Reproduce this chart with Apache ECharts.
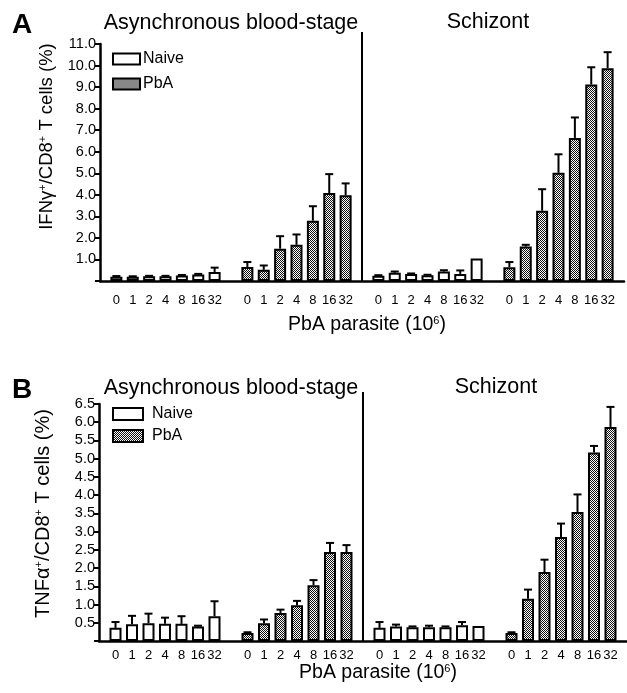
<!DOCTYPE html>
<html>
<head>
<meta charset="utf-8">
<script src="https://cdn.jsdelivr.net/npm/echarts@6/dist/echarts.min.js"></script>
<style>
html, body { margin: 0; padding: 0; background: #fff; }
#chart { width: 627px; height: 693px; }
</style>
</head>
<body>
<div id="chart"></div>
<script>
var doses = ['0', '1', '2', '4', '8', '16', '32'];

// A: IFN-gamma
var ifnNaiveAsync    = [0.20, 0.20, 0.22, 0.22, 0.25, 0.30, 0.42];
var ifnNaiveAsyncErr = [0.03, 0.02, 0.02, 0.02, 0.03, 0.03, 0.20];
var ifnPbaAsync      = [0.65, 0.52, 1.50, 1.68, 2.80, 4.08, 3.98];
var ifnPbaAsyncErr   = [0.23, 0.20, 0.58, 0.48, 0.67, 0.88, 0.55];
var ifnNaiveSchiz    = [0.24, 0.38, 0.33, 0.27, 0.44, 0.33, 1.05];
var ifnNaiveSchizErr = [0.03, 0.06, 0.02, 0.02, 0.06, 0.16, 0];
var ifnPbaSchiz      = [0.64, 1.60, 3.26, 5.02, 6.64, 9.12, 9.88];
var ifnPbaSchizErr   = [0.24, 0.08, 1.00, 0.86, 0.95, 0.80, 0.74];

// B: TNF-alpha
var tnfNaiveAsync    = [0.36, 0.46, 0.49, 0.47, 0.47, 0.40, 0.68];
var tnfNaiveAsyncErr = [0.16, 0.23, 0.26, 0.17, 0.21, 0.02, 0.41];
var tnfPbaAsync      = [0.22, 0.49, 0.77, 0.98, 1.53, 2.44, 2.44];
var tnfPbaAsyncErr   = [0.02, 0.10, 0.09, 0.12, 0.14, 0.25, 0.19];
var tnfNaiveSchiz    = [0.36, 0.40, 0.38, 0.38, 0.38, 0.43, 0.41];
var tnfNaiveSchizErr = [0.16, 0.05, 0.02, 0.04, 0.02, 0.09, 0];
var tnfPbaSchiz      = [0.22, 1.16, 1.89, 2.85, 3.54, 5.17, 5.87];
var tnfPbaSchizErr   = [0.02, 0.25, 0.34, 0.37, 0.48, 0.18, 0.55];

// 4 groups of 7 with a blank slot before, between and after
var starts = [1, 9, 17, 25];
var categories = [''];
for (var g = 0; g < 4; g++) {
    categories = categories.concat(doses);
    categories.push('');
}

function slots(groups) {
    var out = categories.map(function () { return null; });
    groups.forEach(function (vals, gi) {
        if (!vals) return;
        vals.forEach(function (v, i) { out[starts[gi] + i] = v; });
    });
    return out;
}
function errs(pairs) {
    var out = [];
    pairs.forEach(function (p, gi) {
        p[0].forEach(function (v, i) {
            if (p[1][i] > 0) out.push([starts[gi] + i, v, p[1][i]]);
        });
    });
    return out;
}

// checker texture for PbA bars
var tex = document.createElement('canvas');
tex.width = 2; tex.height = 2;
var tc = tex.getContext('2d');
tc.fillStyle = '#fff'; tc.fillRect(0, 0, 2, 2);
tc.fillStyle = '#111'; tc.fillRect(0, 0, 1, 1); tc.fillRect(1, 1, 1, 1);
var pbaFill = { image: tex, repeat: 'repeat' };

var FONT = "'Liberation Sans', Arial, Helvetica, sans-serif";
var NARROW = "'Liberation Sans Narrow', 'Liberation Sans', Arial, sans-serif";

function errRender(params, api) {
    var x = api.value(0), v = api.value(1), e = api.value(2);
    var top = api.coord([x, v + e]);
    var bot = api.coord([x, v]);
    var st = { stroke: '#000', lineWidth: 2 };
    return {
        type: 'group',
        children: [
            { type: 'line', shape: { x1: top[0], y1: top[1], x2: bot[0], y2: bot[1] }, style: st },
            { type: 'line', shape: { x1: top[0] - 4, y1: top[1], x2: top[0] + 4, y2: top[1] }, style: st }
        ]
    };
}

var rich = { sup: { fontSize: 11, fontFamily: FONT, color: '#000', verticalAlign: 'top' } };

function xAxisFor(i, margin, gap, padLeft) {
    return {
        type: 'category', gridIndex: i, data: categories, boundaryGap: false,
        axisLine: { lineStyle: { color: '#000', width: 2.5 } },
        axisTick: { show: false },
        axisLabel: { interval: 0, color: '#000', fontSize: 13, fontFamily: NARROW, margin: margin },
        name: 'PbA parasite (10{sup|6})', nameLocation: 'middle', nameGap: gap,
        nameTextStyle: { color: '#000', fontSize: 19.5, fontFamily: FONT, padding: [0, 0, 0, padLeft], rich: rich }
    };
}
function yAxisFor(i, max, step, name, fs, pad, gap) {
    return {
        type: 'value', gridIndex: i, min: 0, max: max, interval: step,
        splitLine: { show: false },
        axisLine: { show: true, lineStyle: { color: '#000', width: 2.5 } },
        axisTick: { show: true, length: 5, lineStyle: { color: '#000', width: 2 } },
        axisLabel: {
            color: '#000', fontSize: 14.5, fontFamily: FONT, margin: 4,
            formatter: function (v) { return v === 0 ? '' : v.toFixed(1); }
        },
        name: name, nameLocation: 'middle', nameGap: gap, nameRotate: 90,
        nameTextStyle: { color: '#000', fontSize: fs, fontFamily: FONT, padding: [0, 0, 0, pad], rich: rich }
    };
}
function barSeries(name, i, data, color) {
    return {
        name: name, type: 'bar', xAxisIndex: i, yAxisIndex: i,
        data: data, barWidth: 12, barGap: '-100%',
        itemStyle: { color: color, borderColor: '#000', borderWidth: 2 },
        emphasis: { disabled: true }
    };
}
function errSeries(i, data) {
    return {
        type: 'custom', xAxisIndex: i, yAxisIndex: i, data: data,
        renderItem: errRender, z: 3, silent: true
    };
}
function legendFor(top, w, h, gap, textPad) {
    return {
        orient: 'vertical', left: 112, top: top, itemWidth: w, itemHeight: h, itemGap: gap,
        icon: 'rect', selectedMode: false, padding: 0,
        textStyle: { color: '#000', fontSize: 16, fontFamily: FONT, padding: [0, 0, 0, textPad] },
        data: ['Naive', 'PbA']
    };
}

var chart = echarts.init(document.getElementById('chart'));
var option = {
    backgroundColor: '#fff',
    animation: false,
    grid: [
        { left: 100, right: 3, top: 44, bottom: 412, outerBoundsMode: 'none' },
        { left: 99, right: 0, top: 404, bottom: 52, outerBoundsMode: 'none' }
    ],
    legend: [legendFor(51, 27, 11, 9, -2), legendFor(406, 30, 12, 6, 4)],
    xAxis: [xAxisFor(0, 13, 34, 10), xAxisFor(1, 8, 22, 30)],
    yAxis: [
        yAxisFor(0, 11, 1, 'IFNγ{sup|+}/CD8{sup|+} T cells (%)', 18.5, 52, 44),
        yAxisFor(1, 6.5, 0.5, 'TNFα{sup|+}/CD8{sup|+} T cells (%)', 20, 18, 46)
    ],
    series: [
        barSeries('Naive', 0, slots([ifnNaiveAsync, null, ifnNaiveSchiz, null]), '#fff'),
        barSeries('PbA', 0, slots([null, ifnPbaAsync, null, ifnPbaSchiz]), pbaFill),
        errSeries(0, errs([[ifnNaiveAsync, ifnNaiveAsyncErr], [ifnPbaAsync, ifnPbaAsyncErr],
                           [ifnNaiveSchiz, ifnNaiveSchizErr], [ifnPbaSchiz, ifnPbaSchizErr]])),
        barSeries('Naive', 1, slots([tnfNaiveAsync, null, tnfNaiveSchiz, null]), '#fff'),
        barSeries('PbA', 1, slots([null, tnfPbaAsync, null, tnfPbaSchiz]), pbaFill),
        errSeries(1, errs([[tnfNaiveAsync, tnfNaiveAsyncErr], [tnfPbaAsync, tnfPbaAsyncErr],
                           [tnfNaiveSchiz, tnfNaiveSchizErr], [tnfPbaSchiz, tnfPbaSchizErr]]))
    ]
};
chart.setOption(option);

// panel letters, stage titles and the divider between stages
var graphics = [];
[
    { letter: 'A', g: 0, ly: 25, ty: 23, ax: 231, sx: 488 },
    { letter: 'B', g: 1, ly: 390, ty: 388, ax: 231, sx: 496 }
].forEach(function (p) {
    var ymax = option.yAxis[p.g].max;
    var mid = chart.convertToPixel({ gridIndex: p.g }, [16, 0]);
    var topPt = chart.convertToPixel({ gridIndex: p.g }, [16, ymax]);
    graphics.push({
        type: 'text', x: 22, y: p.ly,
        style: { text: p.letter, font: "bold 28px " + FONT, fill: '#000', align: 'center', verticalAlign: 'middle' }
    });
    graphics.push({
        type: 'text', x: p.ax, y: p.ty,
        style: { text: 'Asynchronous blood-stage', font: "21.5px " + FONT, fill: '#000', align: 'center', verticalAlign: 'middle' }
    });
    graphics.push({
        type: 'text', x: p.sx, y: p.ty - 1,
        style: { text: 'Schizont', font: "21.5px " + FONT, fill: '#000', align: 'center', verticalAlign: 'middle' }
    });
    graphics.push({
        type: 'line', shape: { x1: mid[0], y1: topPt[1] - 12, x2: mid[0], y2: mid[1] },
        style: { stroke: '#000', lineWidth: 2 }
    });
});
chart.setOption({ graphic: graphics });
</script>
</body>
</html>
